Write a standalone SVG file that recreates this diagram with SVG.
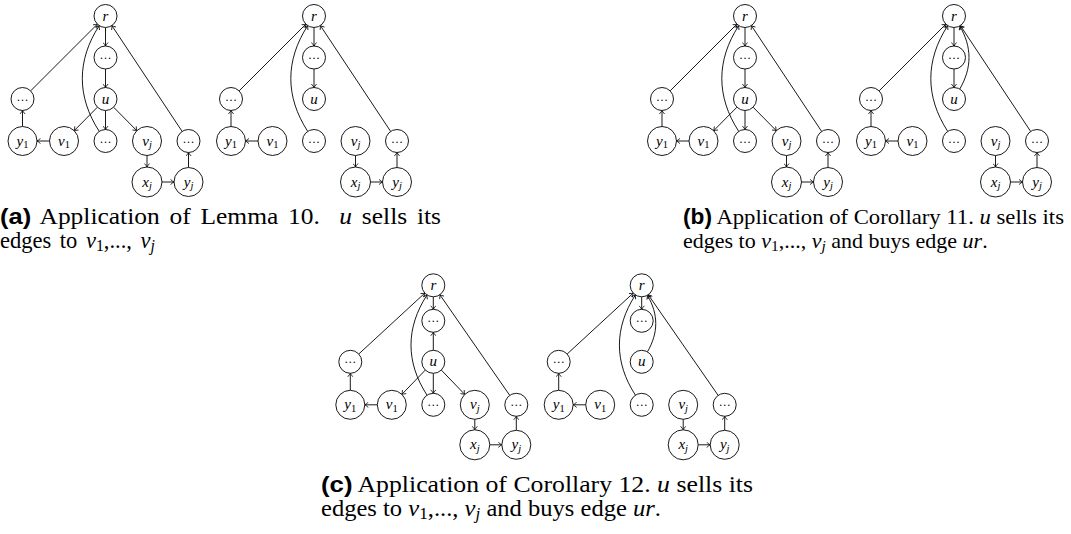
<svg xmlns="http://www.w3.org/2000/svg" width="1071" height="534" viewBox="0 0 1071 534">
<style>
.n{fill:#fff;stroke:#000;stroke-width:0.9}
.e{fill:none;stroke:#000;stroke-width:0.9;marker-end:url(#ah)}
.lb{font-family:"Liberation Serif",serif;font-style:italic;font-size:15px;text-anchor:middle}
.dt{font-family:"Liberation Serif",serif;font-size:12px;text-anchor:middle}
.sb{font-size:10.5px;font-style:normal}
.sj{font-size:10.5px;font-style:italic}
.cap{font-family:"Liberation Serif",serif}
.capb{font-family:"Liberation Sans",sans-serif;font-weight:bold}
.it{font-style:italic}
.csub{font-size:0.7em;font-style:normal}
.csubj{font-size:0.7em;font-style:italic}
</style>
<defs>
<marker id="ah" viewBox="-4 -3 5 6" markerWidth="5" markerHeight="6" refX="0" refY="0" orient="auto" markerUnits="userSpaceOnUse">
<path d="M-3.5,-2.6 Q-1.2,-0.6 0,0 Q-1.2,0.6 -3.5,2.6" fill="none" stroke="#000" stroke-width="0.8"/>
</marker>
</defs>

<g id="connectors">
 <g id="conn-a1" transform="translate(105.5,16)">
  <path class="e" d="M-74.87,74.87 L-8.13,8.13"/>
  <path class="e" d="M-83,110.5 L-83,94.5"/>
  <path class="e" d="M-56,125 L-68.5,125"/>
  <path class="e" d="M0,11.5 L0,30"/>
  <path class="e" d="M0,53 L0,71.5"/>
  <path class="e" d="M-8.08,91.18 L-31.31,114.68"/>
  <path class="e" d="M0,94.5 L0,113.5"/>
  <path class="e" d="M8.08,91.18 L31.31,114.68"/>
  <path class="e" d="M41.5,139.5 L41.5,151"/>
  <path class="e" d="M56.5,166 L68.5,166"/>
  <path class="e" d="M83,151.5 L83,136.5"/>
  <path class="e" d="M76.64,115.42 L6.36,9.58"/>
  <path class="e" d="M-6.27,115.35 C-28.83,80.62 -28.83,44.38 -6.27,9.65"/>
 </g>
 <g id="conn-a2" transform="translate(314,16)">
  <path class="e" d="M-74.87,74.87 L-8.13,8.13"/>
  <path class="e" d="M-83,110.5 L-83,94.5"/>
  <path class="e" d="M-56,125 L-68.5,125"/>
  <path class="e" d="M0,11.5 L0,30"/>
  <path class="e" d="M0,53 L0,71.5"/>
  <path class="e" d="M41.5,139.5 L41.5,151"/>
  <path class="e" d="M56.5,166 L68.5,166"/>
  <path class="e" d="M83,151.5 L83,136.5"/>
  <path class="e" d="M76.64,115.42 L6.36,9.58"/>
  <path class="e" d="M-6.27,115.35 C-28.83,80.62 -28.83,44.38 -6.27,9.65"/>
 </g>
 <g id="conn-b1" transform="translate(745,16)">
  <path class="e" d="M-74.87,74.87 L-8.13,8.13"/>
  <path class="e" d="M-83,110.5 L-83,94.5"/>
  <path class="e" d="M-56,125 L-68.5,125"/>
  <path class="e" d="M0,11.5 L0,30"/>
  <path class="e" d="M0,53 L0,71.5"/>
  <path class="e" d="M-8.08,91.18 L-31.31,114.68"/>
  <path class="e" d="M0,94.5 L0,113.5"/>
  <path class="e" d="M8.08,91.18 L31.31,114.68"/>
  <path class="e" d="M41.5,139.5 L41.5,151"/>
  <path class="e" d="M56.5,166 L68.5,166"/>
  <path class="e" d="M83,151.5 L83,136.5"/>
  <path class="e" d="M76.64,115.42 L6.36,9.58"/>
  <path class="e" d="M-6.27,115.35 C-28.83,80.62 -28.83,44.38 -6.27,9.65"/>
 </g>
 <g id="conn-b2" transform="translate(954,16)">
  <path class="e" d="M-74.87,74.87 L-8.13,8.13"/>
  <path class="e" d="M-83,110.5 L-83,94.5"/>
  <path class="e" d="M-56,125 L-68.5,125"/>
  <path class="e" d="M0,11.5 L0,30"/>
  <path class="e" d="M0,53 L0,71.5"/>
  <path class="e" d="M41.5,139.5 L41.5,151"/>
  <path class="e" d="M56.5,166 L68.5,166"/>
  <path class="e" d="M83,151.5 L83,136.5"/>
  <path class="e" d="M76.64,115.42 L6.36,9.58"/>
  <path class="e" d="M-6.27,115.35 C-28.83,80.62 -28.83,44.38 -6.27,9.65"/>
  <path class="e" d="M5.75,73.04 C18.1,51.65 18.1,31.35 5.75,9.96"/>
 </g>
 <g id="conn-c1" transform="translate(433.3,285.3)">
  <path class="e" d="M-74.54,68.71 L-8.46,7.79"/>
  <path class="e" d="M-83,105 L-83,88"/>
  <path class="e" d="M-56,119.5 L-68.5,119.5"/>
  <path class="e" d="M0,11.5 L0,24"/>
  <path class="e" d="M0,65 L0,47"/>
  <path class="e" d="M-7.99,84.77 L-31.43,109.07"/>
  <path class="e" d="M0,88 L0,108"/>
  <path class="e" d="M7.99,84.77 L31.43,109.07"/>
  <path class="e" d="M41.5,134 L41.5,144.5"/>
  <path class="e" d="M56.5,159.5 L68.5,159.5"/>
  <path class="e" d="M83,145 L83,131"/>
  <path class="e" d="M76.44,110.06 L6.56,9.44"/>
  <path class="e" d="M-6.27,109.85 C-27.65,76.94 -27.65,42.56 -6.27,9.65"/>
 </g>
 <g id="conn-c2" transform="translate(641.7,285.3)">
  <path class="e" d="M-74.54,68.71 L-8.46,7.79"/>
  <path class="e" d="M-83,105 L-83,88"/>
  <path class="e" d="M-56,119.5 L-68.5,119.5"/>
  <path class="e" d="M0,11.5 L0,24"/>
  <path class="e" d="M41.5,134 L41.5,144.5"/>
  <path class="e" d="M56.5,159.5 L68.5,159.5"/>
  <path class="e" d="M83,145 L83,131"/>
  <path class="e" d="M76.44,110.06 L6.56,9.44"/>
  <path class="e" d="M-6.27,109.85 C-27.65,76.94 -27.65,42.56 -6.27,9.65"/>
  <path class="e" d="M5.75,66.54 C16.83,47.36 16.83,29.14 5.75,9.96"/>
 </g>
</g>

<g id="fig-a1" transform="translate(105.5,16)">
 <g id="a1-r"><circle class="n" cx="0" cy="0" r="11.5"/><text class="lb" x="0" y="4.5">r</text></g>
 <g id="a1-t"><circle class="n" cx="0" cy="41.5" r="11.5"/><text class="dt" x="0" y="43">…</text></g>
 <g id="a1-u"><circle class="n" cx="0" cy="83" r="11.5"/><text class="lb" x="0" y="87.5">u</text></g>
 <g id="a1-L"><circle class="n" cx="-83" cy="83" r="11.5"/><text class="dt" x="-83" y="84.5">…</text></g>
 <g id="a1-y1"><circle class="n" cx="-83" cy="125" r="14.5"/><text class="lb" x="-83" y="129.5">y<tspan class="sb" dy="2.5">1</tspan></text></g>
 <g id="a1-v1"><circle class="n" cx="-41.5" cy="125" r="14.5"/><text class="lb" x="-41.5" y="129.5">v<tspan class="sb" dy="2.5">1</tspan></text></g>
 <g id="a1-m"><circle class="n" cx="0" cy="125" r="11.5"/><text class="dt" x="0" y="126.5">…</text></g>
 <g id="a1-vj"><circle class="n" cx="41.5" cy="125" r="14.5"/><text class="lb" x="41.5" y="129.5">v<tspan class="sj" dy="2.5">j</tspan></text></g>
 <g id="a1-R"><circle class="n" cx="83" cy="125" r="11.5"/><text class="dt" x="83" y="126.5">…</text></g>
 <g id="a1-xj"><circle class="n" cx="41.5" cy="166" r="15"/><text class="lb" x="41.5" y="170.5">x<tspan class="sj" dy="2.5">j</tspan></text></g>
 <g id="a1-yj"><circle class="n" cx="83" cy="166" r="14.5"/><text class="lb" x="83" y="170.5">y<tspan class="sj" dy="2.5">j</tspan></text></g>
</g>

<g id="fig-a2" transform="translate(314,16)">
 <g id="a2-r"><circle class="n" cx="0" cy="0" r="11.5"/><text class="lb" x="0" y="4.5">r</text></g>
 <g id="a2-t"><circle class="n" cx="0" cy="41.5" r="11.5"/><text class="dt" x="0" y="43">…</text></g>
 <g id="a2-u"><circle class="n" cx="0" cy="83" r="11.5"/><text class="lb" x="0" y="87.5">u</text></g>
 <g id="a2-L"><circle class="n" cx="-83" cy="83" r="11.5"/><text class="dt" x="-83" y="84.5">…</text></g>
 <g id="a2-y1"><circle class="n" cx="-83" cy="125" r="14.5"/><text class="lb" x="-83" y="129.5">y<tspan class="sb" dy="2.5">1</tspan></text></g>
 <g id="a2-v1"><circle class="n" cx="-41.5" cy="125" r="14.5"/><text class="lb" x="-41.5" y="129.5">v<tspan class="sb" dy="2.5">1</tspan></text></g>
 <g id="a2-m"><circle class="n" cx="0" cy="125" r="11.5"/><text class="dt" x="0" y="126.5">…</text></g>
 <g id="a2-vj"><circle class="n" cx="41.5" cy="125" r="14.5"/><text class="lb" x="41.5" y="129.5">v<tspan class="sj" dy="2.5">j</tspan></text></g>
 <g id="a2-R"><circle class="n" cx="83" cy="125" r="11.5"/><text class="dt" x="83" y="126.5">…</text></g>
 <g id="a2-xj"><circle class="n" cx="41.5" cy="166" r="15"/><text class="lb" x="41.5" y="170.5">x<tspan class="sj" dy="2.5">j</tspan></text></g>
 <g id="a2-yj"><circle class="n" cx="83" cy="166" r="14.5"/><text class="lb" x="83" y="170.5">y<tspan class="sj" dy="2.5">j</tspan></text></g>
</g>

<g id="fig-b1" transform="translate(745,16)">
 <g id="b1-r"><circle class="n" cx="0" cy="0" r="11.5"/><text class="lb" x="0" y="4.5">r</text></g>
 <g id="b1-t"><circle class="n" cx="0" cy="41.5" r="11.5"/><text class="dt" x="0" y="43">…</text></g>
 <g id="b1-u"><circle class="n" cx="0" cy="83" r="11.5"/><text class="lb" x="0" y="87.5">u</text></g>
 <g id="b1-L"><circle class="n" cx="-83" cy="83" r="11.5"/><text class="dt" x="-83" y="84.5">…</text></g>
 <g id="b1-y1"><circle class="n" cx="-83" cy="125" r="14.5"/><text class="lb" x="-83" y="129.5">y<tspan class="sb" dy="2.5">1</tspan></text></g>
 <g id="b1-v1"><circle class="n" cx="-41.5" cy="125" r="14.5"/><text class="lb" x="-41.5" y="129.5">v<tspan class="sb" dy="2.5">1</tspan></text></g>
 <g id="b1-m"><circle class="n" cx="0" cy="125" r="11.5"/><text class="dt" x="0" y="126.5">…</text></g>
 <g id="b1-vj"><circle class="n" cx="41.5" cy="125" r="14.5"/><text class="lb" x="41.5" y="129.5">v<tspan class="sj" dy="2.5">j</tspan></text></g>
 <g id="b1-R"><circle class="n" cx="83" cy="125" r="11.5"/><text class="dt" x="83" y="126.5">…</text></g>
 <g id="b1-xj"><circle class="n" cx="41.5" cy="166" r="15"/><text class="lb" x="41.5" y="170.5">x<tspan class="sj" dy="2.5">j</tspan></text></g>
 <g id="b1-yj"><circle class="n" cx="83" cy="166" r="14.5"/><text class="lb" x="83" y="170.5">y<tspan class="sj" dy="2.5">j</tspan></text></g>
</g>

<g id="fig-b2" transform="translate(954,16)">
 <g id="b2-r"><circle class="n" cx="0" cy="0" r="11.5"/><text class="lb" x="0" y="4.5">r</text></g>
 <g id="b2-t"><circle class="n" cx="0" cy="41.5" r="11.5"/><text class="dt" x="0" y="43">…</text></g>
 <g id="b2-u"><circle class="n" cx="0" cy="83" r="11.5"/><text class="lb" x="0" y="87.5">u</text></g>
 <g id="b2-L"><circle class="n" cx="-83" cy="83" r="11.5"/><text class="dt" x="-83" y="84.5">…</text></g>
 <g id="b2-y1"><circle class="n" cx="-83" cy="125" r="14.5"/><text class="lb" x="-83" y="129.5">y<tspan class="sb" dy="2.5">1</tspan></text></g>
 <g id="b2-v1"><circle class="n" cx="-41.5" cy="125" r="14.5"/><text class="lb" x="-41.5" y="129.5">v<tspan class="sb" dy="2.5">1</tspan></text></g>
 <g id="b2-m"><circle class="n" cx="0" cy="125" r="11.5"/><text class="dt" x="0" y="126.5">…</text></g>
 <g id="b2-vj"><circle class="n" cx="41.5" cy="125" r="14.5"/><text class="lb" x="41.5" y="129.5">v<tspan class="sj" dy="2.5">j</tspan></text></g>
 <g id="b2-R"><circle class="n" cx="83" cy="125" r="11.5"/><text class="dt" x="83" y="126.5">…</text></g>
 <g id="b2-xj"><circle class="n" cx="41.5" cy="166" r="15"/><text class="lb" x="41.5" y="170.5">x<tspan class="sj" dy="2.5">j</tspan></text></g>
 <g id="b2-yj"><circle class="n" cx="83" cy="166" r="14.5"/><text class="lb" x="83" y="170.5">y<tspan class="sj" dy="2.5">j</tspan></text></g>
</g>

<g id="fig-c1" transform="translate(433.3,285.3)">
 <g id="c1-r"><circle class="n" cx="0" cy="0" r="11.5"/><text class="lb" x="0" y="4.5">r</text></g>
 <g id="c1-t"><circle class="n" cx="0" cy="35.5" r="11.5"/><text class="dt" x="0" y="37">…</text></g>
 <g id="c1-u"><circle class="n" cx="0" cy="76.5" r="11.5"/><text class="lb" x="0" y="81">u</text></g>
 <g id="c1-L"><circle class="n" cx="-83" cy="76.5" r="11.5"/><text class="dt" x="-83" y="78">…</text></g>
 <g id="c1-y1"><circle class="n" cx="-83" cy="119.5" r="14.5"/><text class="lb" x="-83" y="124">y<tspan class="sb" dy="2.5">1</tspan></text></g>
 <g id="c1-v1"><circle class="n" cx="-41.5" cy="119.5" r="14.5"/><text class="lb" x="-41.5" y="124">v<tspan class="sb" dy="2.5">1</tspan></text></g>
 <g id="c1-m"><circle class="n" cx="0" cy="119.5" r="11.5"/><text class="dt" x="0" y="121">…</text></g>
 <g id="c1-vj"><circle class="n" cx="41.5" cy="119.5" r="14.5"/><text class="lb" x="41.5" y="124">v<tspan class="sj" dy="2.5">j</tspan></text></g>
 <g id="c1-R"><circle class="n" cx="83" cy="119.5" r="11.5"/><text class="dt" x="83" y="121">…</text></g>
 <g id="c1-xj"><circle class="n" cx="41.5" cy="159.5" r="15"/><text class="lb" x="41.5" y="164">x<tspan class="sj" dy="2.5">j</tspan></text></g>
 <g id="c1-yj"><circle class="n" cx="83" cy="159.5" r="14.5"/><text class="lb" x="83" y="164">y<tspan class="sj" dy="2.5">j</tspan></text></g>
</g>

<g id="fig-c2" transform="translate(641.7,285.3)">
 <g id="c2-r"><circle class="n" cx="0" cy="0" r="11.5"/><text class="lb" x="0" y="4.5">r</text></g>
 <g id="c2-t"><circle class="n" cx="0" cy="35.5" r="11.5"/><text class="dt" x="0" y="37">…</text></g>
 <g id="c2-u"><circle class="n" cx="0" cy="76.5" r="11.5"/><text class="lb" x="0" y="81">u</text></g>
 <g id="c2-L"><circle class="n" cx="-83" cy="76.5" r="11.5"/><text class="dt" x="-83" y="78">…</text></g>
 <g id="c2-y1"><circle class="n" cx="-83" cy="119.5" r="14.5"/><text class="lb" x="-83" y="124">y<tspan class="sb" dy="2.5">1</tspan></text></g>
 <g id="c2-v1"><circle class="n" cx="-41.5" cy="119.5" r="14.5"/><text class="lb" x="-41.5" y="124">v<tspan class="sb" dy="2.5">1</tspan></text></g>
 <g id="c2-m"><circle class="n" cx="0" cy="119.5" r="11.5"/><text class="dt" x="0" y="121">…</text></g>
 <g id="c2-vj"><circle class="n" cx="41.5" cy="119.5" r="14.5"/><text class="lb" x="41.5" y="124">v<tspan class="sj" dy="2.5">j</tspan></text></g>
 <g id="c2-R"><circle class="n" cx="83" cy="119.5" r="11.5"/><text class="dt" x="83" y="121">…</text></g>
 <g id="c2-xj"><circle class="n" cx="41.5" cy="159.5" r="15"/><text class="lb" x="41.5" y="164">x<tspan class="sj" dy="2.5">j</tspan></text></g>
 <g id="c2-yj"><circle class="n" cx="83" cy="159.5" r="14.5"/><text class="lb" x="83" y="164">y<tspan class="sj" dy="2.5">j</tspan></text></g>
</g>

<g id="captions">
 <text class="cap" x="0" y="224" font-size="22.5" xml:space="preserve" style="word-spacing:3px" textLength="441" lengthAdjust="spacingAndGlyphs"><tspan class="capb">(a)</tspan> Application of Lemma 10.  <tspan class="it">u</tspan> sells its</text>
 <text class="cap" x="0" y="248" font-size="22.5" style="word-spacing:3px">edges to <tspan class="it">v</tspan><tspan class="csub" dy="3">1</tspan><tspan dy="-3">,..., </tspan><tspan class="it">v</tspan><tspan class="csubj" dy="3">j</tspan></text>
 <text class="cap" x="683" y="224" font-size="22" textLength="381" lengthAdjust="spacingAndGlyphs"><tspan class="capb">(b)</tspan> Application of Corollary 11. <tspan class="it">u</tspan> sells its</text>
 <text class="cap" x="683" y="248" font-size="22">edges to <tspan class="it">v</tspan><tspan class="csub" dy="3">1</tspan><tspan dy="-3">,..., </tspan><tspan class="it">v</tspan><tspan class="csubj" dy="3">j</tspan><tspan dy="-3"> and buys edge </tspan><tspan class="it">ur</tspan>.</text>
 <text class="cap" x="321" y="492" font-size="22.5" textLength="432" lengthAdjust="spacingAndGlyphs"><tspan class="capb">(c)</tspan> Application of Corollary 12. <tspan class="it">u</tspan> sells its</text>
 <text class="cap" x="321" y="516" font-size="22.5" textLength="340" lengthAdjust="spacingAndGlyphs">edges to <tspan class="it">v</tspan><tspan class="csub" dy="3">1</tspan><tspan dy="-3">,..., </tspan><tspan class="it">v</tspan><tspan class="csubj" dy="3">j</tspan><tspan dy="-3"> and buys edge </tspan><tspan class="it">ur</tspan>.</text>
</g>
</svg>
